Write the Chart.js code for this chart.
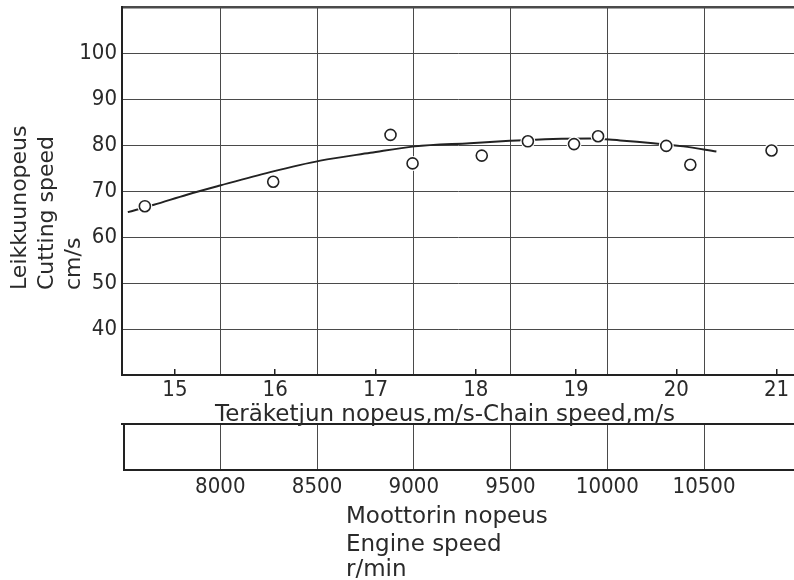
<!DOCTYPE html>
<html>
<head>
<meta charset="utf-8">
<script src="https://cdn.jsdelivr.net/npm/chart.js@4.4.1/dist/chart.umd.min.js"></script>
<style>
  html, body { margin: 0; padding: 0; background: #ffffff; }
  #wrap { position: relative; width: 794px; height: 580px; }
</style>
</head>
<body>
<div id="wrap"><canvas id="c"></canvas></div>
<script>
// ---- data ----
const chainTicks = [15, 16, 17, 18, 19, 20, 21];
const engineTicks = [8000, 8500, 9000, 9500, 10000, 10500];
const cuttingTicks = [30, 40, 50, 60, 70, 80, 90, 100, 110];
const cuttingLabelled = [40, 50, 60, 70, 80, 90, 100];

const pointChainSpeed   = [14.70, 15.98, 17.15, 17.37, 18.06, 18.52, 18.98, 19.22, 19.90, 20.14, 20.95];
const pointCuttingSpeed = [66.7, 72.0, 82.2, 76.0, 77.7, 80.8, 80.2, 81.9, 79.8, 75.7, 78.8];

const curveChainSpeed   = [14.53, 14.79, 15.12, 15.45, 15.95, 16.45, 16.95, 17.39, 17.94, 18.34, 18.77, 19.14, 19.44, 19.77, 20.07, 20.40];
const curveCuttingSpeed = [65.4, 67.0, 69.2, 71.2, 74.1, 76.6, 78.3, 79.7, 80.4, 80.9, 81.3, 81.4, 81.0, 80.4, 79.7, 78.6];

const yTitleLines = ['Leikkuunopeus', 'Cutting speed', 'cm/s'];
const chainTitle = 'Teräketjun nopeus,m/s-Chain speed,m/s';
const engineTitleLines = ['Moottorin nopeus', 'Engine speed', 'r/min'];

// axis bounds
const chainMin = 14.472, chainMax = 21.174;
const engineMin = 7492, engineMax = 10965;
const cutMin = 30, cutMax = 110;

// ---- styles ----
const INK = '#222222';
const GRID = '#4a4a4a';
const TEXT = '#2a2a2a';
const TICK_FONT = { family: '"DejaVu Sans Condensed", "DejaVu Sans", sans-serif', size: 22 };
const TITLE_FAMILY = '"DejaVu Sans", sans-serif';

const toXY = (xs, ys) => xs.map((x, i) => ({ x: x, y: ys[i] }));

const extras = {
  id: 'extras',
  afterDraw(chart) {
    const ctx = chart.ctx;
    const x2 = chart.scales.x2;
    ctx.save();
    // lower panel frame (left and bottom edges)
    ctx.strokeStyle = INK;
    ctx.lineWidth = 2;
    ctx.beginPath();
    ctx.moveTo(x2.left + 2, x2.top);
    ctx.lineTo(x2.left + 2, x2.top + 47);
    ctx.moveTo(x2.left + 1, x2.top + 46);
    ctx.lineTo(x2.right, x2.top + 46);
    ctx.stroke();

    ctx.fillStyle = TEXT;
    ctx.textBaseline = 'alphabetic';
    ctx.textAlign = 'left';
    // y-axis title (rotated)
    ctx.font = '22px ' + TITLE_FAMILY;
    const yBase = [26, 53, 80];
    yTitleLines.forEach((line, i) => {
      ctx.save();
      ctx.translate(0, 290);
      ctx.rotate(-Math.PI / 2);
      ctx.fillText(line, 0, yBase[i]);
      ctx.restore();
    });
    // chain speed title
    ctx.font = '23px ' + TITLE_FAMILY;
    ctx.fillText(chainTitle, 215, 421);
    // engine speed title
    const eBase = [523, 551, 576];
    engineTitleLines.forEach((line, i) => ctx.fillText(line, 346, eBase[i]));
    ctx.restore();
  }
};

new Chart(document.getElementById('c'), {
  type: 'scatter',
  data: {
    datasets: [
      {
        label: 'points',
        data: toXY(pointChainSpeed, pointCuttingSpeed),
        xAxisID: 'x', yAxisID: 'y',
        pointRadius: 5.5, pointBorderWidth: 1.6,
        pointBorderColor: INK, pointBackgroundColor: '#ffffff',
        order: 1
      },
      {
        label: 'halo',
        data: toXY(pointChainSpeed, pointCuttingSpeed),
        xAxisID: 'x', yAxisID: 'y',
        pointRadius: 7.5, pointBorderWidth: 0,
        pointBorderColor: '#ffffff', pointBackgroundColor: '#ffffff',
        order: 2
      },
      {
        label: 'curve',
        data: toXY(curveChainSpeed, curveCuttingSpeed),
        xAxisID: 'x', yAxisID: 'y',
        showLine: true, pointRadius: 0, borderColor: INK, borderWidth: 2,
        cubicInterpolationMode: 'monotone',
        order: 3
      }
    ]
  },
  options: {
    responsive: true,
    maintainAspectRatio: false,
    animation: false,
    events: [],
    layout: { autoPadding: false, padding: { top: 7, right: 0, bottom: 0, left: 0 } },
    plugins: { legend: { display: false }, tooltip: { enabled: false } },
    scales: {
      x: {
        type: 'linear', position: 'bottom', weight: 0,
        min: chainMin, max: chainMax,
        afterBuildTicks: (s) => { s.ticks = chainTicks.map(v => ({ value: v })); },
        afterFit: (s) => { s.height = 49; s.paddingLeft = 0; s.paddingRight = 0; },
        grid: { display: true, drawOnChartArea: false, drawTicks: true, tickLength: -6, color: INK, lineWidth: 1.5 },
        border: { display: true, color: INK, width: 2 },
        ticks: { color: TEXT, font: TICK_FONT, padding: 8, maxRotation: 0, autoSkip: false, callback: (v) => String(v) }
      },
      x2: {
        type: 'linear', position: 'bottom', weight: 1,
        min: engineMin, max: engineMax,
        afterBuildTicks: (s) => { s.ticks = engineTicks.map(v => ({ value: v })); },
        afterFit: (s) => { s.height = 156; s.paddingLeft = 0; s.paddingRight = 0; },
        grid: { display: true, drawOnChartArea: true, drawTicks: true, tickLength: 46, color: GRID, lineWidth: 1 },
        border: { display: true, color: INK, width: 2 },
        ticks: { color: TEXT, font: TICK_FONT, padding: 4, maxRotation: 0, autoSkip: false, callback: (v) => String(v) }
      },
      y: {
        type: 'linear', position: 'left',
        min: cutMin, max: cutMax,
        afterBuildTicks: (s) => { s.ticks = cuttingTicks.map(v => ({ value: v })); },
        afterFit: (s) => { s.width = 122; s.paddingTop = 0; s.paddingBottom = 0; },
        grid: {
          display: true, drawOnChartArea: true, drawTicks: false, color: GRID,
          lineWidth: (c) => (c.tick && c.tick.value === cutMax ? 2.5 : 1)
        },
        border: { display: true, color: INK, width: 2 },
        ticks: {
          color: TEXT, font: TICK_FONT, padding: 5, autoSkip: false,
          callback: (v) => (cuttingLabelled.includes(v) ? String(v) : '')
        }
      }
    }
  },
  plugins: [extras]
});
</script>
</body>
</html>
